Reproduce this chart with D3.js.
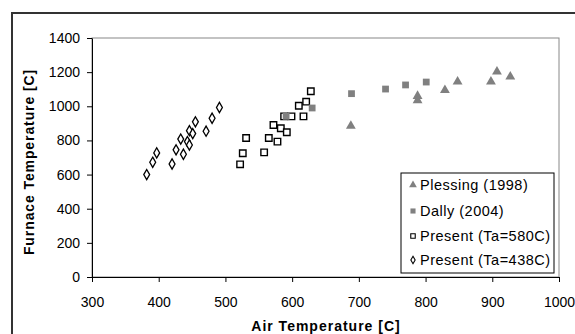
<!DOCTYPE html>
<html><head><meta charset="utf-8">
<script src="https://cdn.jsdelivr.net/npm/d3@7"></script>
<style>body{margin:0;background:#fff;overflow:hidden}svg{display:block;font-family:"Liberation Sans",Arial,sans-serif}</style>
</head><body><svg id="c" width="575" height="334"></svg>
<script>
const xTicks = [300,400,500,600,700,800,900,1000];
const yTicks = [0,200,400,600,800,1000,1200,1400];
const plessing = [[688,885],[788,1060],[788,1035],[829,1095],[848,1144],[898,1144],[907,1203],[927,1173]];
const dally = [[591,941],[630,990],[689,1074],[740,1101],[770,1125],[801,1142]];
const present580 = [[522,660],[526,725],[531,814],[558,730],[565,814],[578,793],[572,890],[583,871],[592,848],[588,941],[599,941],[617,941],[610,1003],[621,1027],[628,1088]];
const present438 = [[382,600],[391,672],[397,727],[420,662],[426,745],[437,719],[433,808],[443,793],[446,773],[446,857],[451,840],[455,909],[471,854],[480,930],[491,993]];
const legendLabels = ["Plessing (1998)","Dally (2004)","Present (Ta=580C)","Present (Ta=438C)"];

const svg = d3.select("#c");
const x = d3.scaleLinear().domain([300,1000]).range([92,559]);
const y = d3.scaleLinear().domain([0,1400]).range([277,38]);

// outer chart border
svg.append("rect").attr("x",12).attr("y",13).attr("width",620).attr("height",400)
  .attr("fill","none").attr("stroke","#333").attr("stroke-width",2);

// plot area border
svg.append("rect").attr("x",92).attr("y",38).attr("width",467).attr("height",239)
  .attr("fill","none").attr("stroke","#888").attr("stroke-width",1);

const xa = svg.append("g").attr("transform","translate(0,277)")
  .call(d3.axisBottom(x).tickValues(xTicks).tickSize(5).tickSizeOuter(0).tickPadding(15).tickFormat(d3.format("d")));
const ya = svg.append("g").attr("transform","translate(92,0)")
  .call(d3.axisLeft(y).tickValues(yTicks).tickSize(5).tickSizeOuter(0).tickPadding(7).tickFormat(d3.format("d")));
[xa,ya].forEach(a=>{
  a.select(".domain").attr("stroke","#000");
  a.selectAll(".tick line").attr("stroke","#000");
  a.selectAll("text").attr("font-size","14px").attr("fill","#000").attr("font-family","Liberation Sans, Arial, sans-serif");
});

svg.append("text").attr("x",326).attr("y",331).attr("text-anchor","middle")
  .attr("font-size","14px").attr("font-weight","bold").attr("letter-spacing","1px").text("Air Temperature [C]");
svg.append("text").attr("transform","translate(34,162) rotate(-90)").attr("text-anchor","middle")
  .attr("font-size","14px").attr("font-weight","bold").attr("letter-spacing","0.9px").text("Furnace Temperature [C]");

const sq = d3.symbol().type(d3.symbolSquare).size(42);
const dm = d3.symbol().type(d3.symbolDiamond).size(30);
const tr = d3.symbol().type(d3.symbolTriangle).size(42);
const sqF = d3.symbol().type(d3.symbolSquare).size(46);

function draw(data, path, fill, stroke, sw){
  svg.append("g").selectAll("path").data(data).join("path")
    .attr("d", path).attr("transform", d=>`translate(${x(d[0])},${y(d[1])})`)
    .attr("fill", fill).attr("stroke", stroke).attr("stroke-width", sw);
}
draw(present438, dm, "#fff", "#000", 1.3);
draw(present580, sq, "#fff", "#000", 1.4);
draw(dally, sqF, "#808080", "none", 0);
draw(plessing, tr, "#808080", "none", 0);

// legend
const lg = svg.append("g");
lg.append("rect").attr("x",401).attr("y",173).attr("width",153).attr("height",100)
  .attr("fill","#fff").attr("stroke","#000").attr("stroke-width",1);
const syms = [
  {p:d3.symbol().type(d3.symbolTriangle).size(26), f:"#808080", s:"none", w:0},
  {p:d3.symbol().type(d3.symbolSquare).size(26), f:"#808080", s:"none", w:0},
  {p:d3.symbol().type(d3.symbolSquare).size(20), f:"#fff", s:"#000", w:1.1},
  {p:d3.symbol().type(d3.symbolDiamond).size(16), f:"#fff", s:"#000", w:1.1}
];
const rowY = [185,211,236,260];
legendLabels.forEach((t,i)=>{
  lg.append("path").attr("d",syms[i].p).attr("transform",`translate(413,${rowY[i]})`)
    .attr("fill",syms[i].f).attr("stroke",syms[i].s).attr("stroke-width",syms[i].w);
  lg.append("text").attr("x",420).attr("y",rowY[i]+5).attr("font-size","14.5px").attr("letter-spacing","0.5px").text(t);
});
</script></body></html>
